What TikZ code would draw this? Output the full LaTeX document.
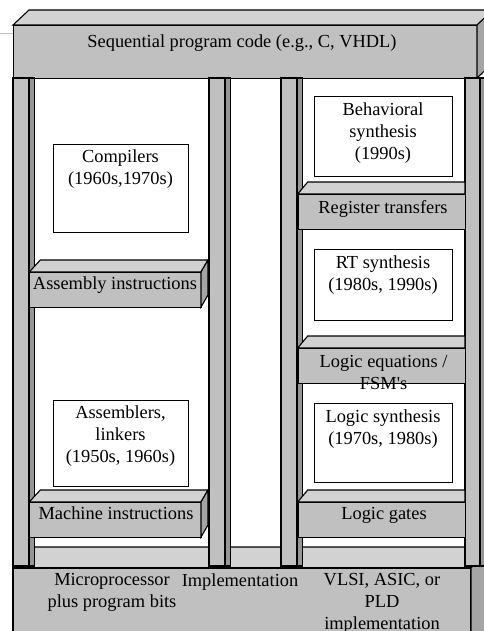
\documentclass[tikz,border=0pt]{standalone}
\usepackage{fontspec}
\setmainfont{Liberation Serif}
\usetikzlibrary{calc}
\definecolor{frontc}{RGB}{192,192,192}
\definecolor{topc}{RGB}{210,210,210}
\definecolor{darkc}{RGB}{150,150,150}
\definecolor{sidec}{RGB}{165,165,165}
\tikzset{
  edge/.style={draw=black, line width=1.1pt, line join=miter},
  txt/.style={inner sep=0pt, align=center, font=\fontsize{18.4}{22}\selectfont, anchor=north},
  whitebox/.style={draw=black, line width=1.1pt, fill=white, inner sep=0pt, anchor=north west},
  barfront/.style={draw=black, line width=1.1pt, fill=frontc, inner sep=0pt, anchor=north west},
}
\begin{document}
\begin{tikzpicture}[x=1pt,y=-1pt]
\useasboundingbox (0,0) rectangle (483,631);
% stray grey line
\draw[black!25, line width=1pt] (0,33.3) -- (13,33.3);

% bottom slab
\filldraw[edge, fill=topc] (13,568) -- (471,568) -- (489,547) -- (31,547) -- cycle;
\filldraw[edge, fill=frontc] (13,568) rectangle (471,645);
\filldraw[edge, fill=sidec] (471,568) -- (489,547) -- (489,640) -- (471,645) -- cycle;

% top slab
\filldraw[edge, fill=topc] (13,25) -- (477,25) -- (493,10) -- (29,10) -- cycle;
\node[barfront, minimum width=464, minimum height=53] (topbar) at (13,25) {};
\filldraw[edge, fill=sidec] (477,25) -- (493,10) -- (493,63) -- (477,78) -- cycle;

% pillars
\foreach \a/\n in {13/p1, 209/p2, 281/p3}{
  \filldraw[edge, fill=frontc] (\a,78) rectangle (\a+16,566);
  \filldraw[edge, fill=darkc] (\a+16,78) rectangle (\a+21.5,566);
}
\filldraw[edge, fill=frontc] (465,78) rectangle (480,566);
\filldraw[edge, fill=darkc] (480,78) rectangle (486,566);

% left bars
\foreach \y/\n in {272/asm, 502/mach}{
  \filldraw[edge, fill=topc] (29.3,\y) -- (201,\y) -- (208,\y-12) -- (40.3,\y-12) -- cycle;
  \node[barfront, minimum width=171.7, minimum height=35] (\n) at (29.3,\y) {};
  \filldraw[edge, fill=sidec] (201,\y) -- (208,\y-12) -- (208,\y+23) -- (201,\y+35) -- cycle;
}
% right bars
\foreach \y/\n in {194/reg, 348/leq, 502/gates}{
  \filldraw[edge, fill=topc] (297.7,\y) -- (465,\y) -- (465,\y-12) -- (307.7,\y-12) -- cycle;
  \node[barfront, minimum width=167.3, minimum height=35] (\n) at (297.7,\y) {};
}

% white boxes
\node[whitebox, minimum width=135.6, minimum height=87.7] (comp) at (52.7,144) {};
\node[whitebox, minimum width=135.6, minimum height=86] (assm) at (52.7,400) {};
\node[whitebox, minimum width=137.4, minimum height=80] (behav) at (314.3,96) {};
\node[whitebox, minimum width=137.4, minimum height=70.7] (rts) at (314.3,249.3) {};
\node[whitebox, minimum width=137.4, minimum height=78.4] (logs) at (314.3,403.3) {};

% texts
\node[txt] (ttop) at (242,34.1) {Sequential program code (e.g., C, VHDL)};
\node[txt] (tcomp) at (120.5,149.4) {Compilers\\(1960s,1970s)};
\node[txt] (tassm) at (120.5,405.4) {Assemblers,\\linkers\\(1950s, 1960s)};
\node[txt] (tbehav) at (383,102.4) {Behavioral\\synthesis\\(1990s)};
\node[txt] (trts) at (383,255.4) {RT synthesis\\(1980s, 1990s)};
\node[txt] (tlogs) at (383,409.4) {Logic synthesis\\(1970s, 1980s)};
\node[txt] (tasm) at (115,276.7) {Assembly instructions};
\node[txt] (tmach) at (116,506.7) {Machine instructions};
\node[txt] (treg) at (383,200.4) {Register transfers};
\node[txt] (tleq) at (383.6,354.7) {Logic equations /\\FSM\textquotesingle s};
\node[txt] (tgates) at (384,506.7) {Logic gates};
\node[txt] (tmicro) at (112,573.4) {Microprocessor\\plus program bits};
\node[txt] (timpl) at (240,573.4) {Implementation};
\node[txt] (tvlsi) at (382,573.4) {VLSI, ASIC, or\\PLD\\implementation};
\end{tikzpicture}
\end{document}
